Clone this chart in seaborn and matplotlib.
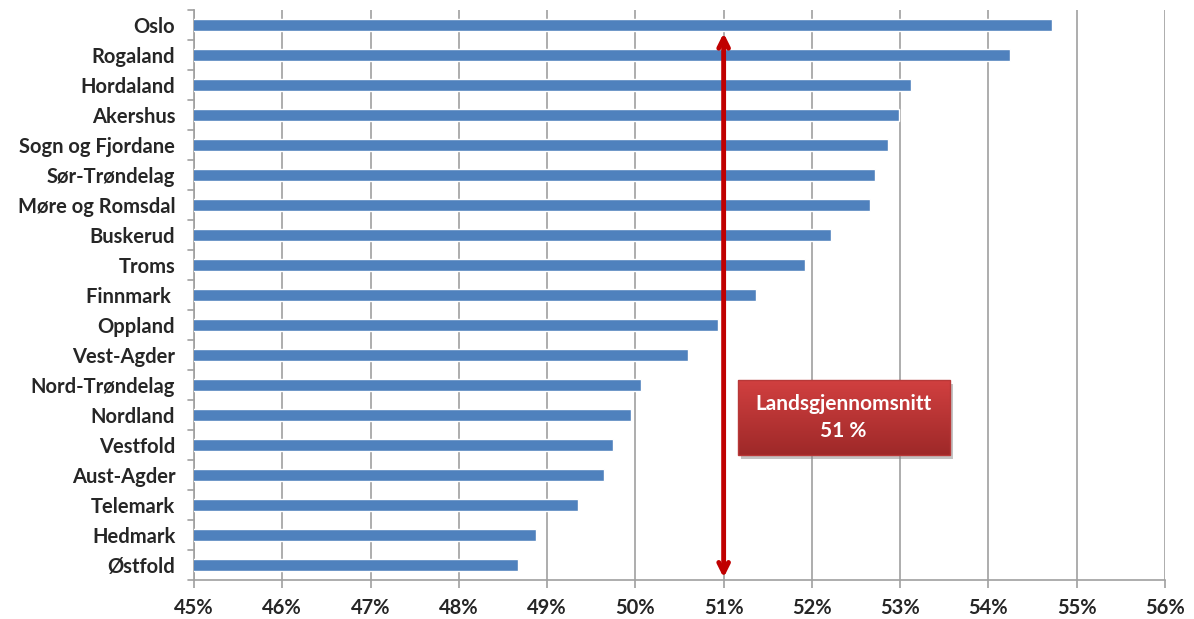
import numpy as np
import pandas as pd
import matplotlib.pyplot as plt
import matplotlib.transforms as mtransforms
import seaborn as sns
from matplotlib.ticker import FixedLocator, FuncFormatter

# Andel per fylke (prosent), lest av figuren
fylker = ['Oslo', 'Rogaland', 'Hordaland', 'Akershus', 'Sogn og Fjordane',
          'Sør-Trøndelag', 'Møre og Romsdal', 'Buskerud', 'Troms', 'Finnmark ',
          'Oppland', 'Vest-Agder', 'Nord-Trøndelag', 'Nordland', 'Vestfold',
          'Aust-Agder', 'Telemark', 'Hedmark', 'Østfold']
andel = [54.72, 54.24, 53.12, 52.99, 52.86, 52.72, 52.66, 52.22, 51.92, 51.37,
         50.94, 50.60, 50.06, 49.95, 49.75, 49.65, 49.35, 48.87, 48.67]
snitt = 51
snitt_tekst = 'Landsgjennomsnitt\n51 %'
x_ticks = list(range(45, 57))

df = pd.DataFrame({'Fylke': fylker, 'Andel': andel})

sns.set_style('white')
plt.rcParams['font.family'] = ['Lato', 'DejaVu Sans']
plt.rcParams['xtick.bottom'] = True

fig = plt.figure(figsize=(11.94, 6.19), dpi=100)
ax = fig.add_axes([194 / 1194, 1 - 580 / 619, (1165 - 194) / 1194, 570 / 619])

sns.barplot(data=df, x='Andel', y='Fylke', orient='h', color='#4F81BD',
            saturation=1, width=0.42, ax=ax, zorder=3)

ax.set_xlim(45, 56)
ax.set_ylim(len(fylker) - 0.5, -0.5)
ax.set_xlabel('')
ax.set_ylabel('')

# grid + axes in Excel style
ax.xaxis.set_major_locator(FixedLocator(x_ticks))
ax.xaxis.set_major_formatter(FuncFormatter(lambda v, p: f'{v:.0f}%'))
ax.grid(axis='x', color='#A0A0A0', lw=1.2, zorder=0)
ax.grid(axis='y', visible=False)
for s in ['top', 'right']:
    ax.spines[s].set_visible(False)
for s in ['left', 'bottom']:
    ax.spines[s].set_color('#A0A0A0')
    ax.spines[s].set_linewidth(1.2)
ax.tick_params(axis='x', which='major', bottom=True, direction='out', length=6,
               width=1.2, color='#A0A0A0', pad=7, labelsize=14.5)
ax.tick_params(axis='y', which='major', left=False, pad=10, labelsize=14.5)
for lbl in ax.get_xticklabels() + ax.get_yticklabels():
    lbl.set_fontweight('bold')

# tick marks between the categories on the y axis
trans = mtransforms.blended_transform_factory(ax.transAxes, ax.transData)
for b in np.arange(-0.5, len(fylker), 1):
    ax.plot([-0.0065, 0], [b, b], color='#A0A0A0', lw=1.2, transform=trans,
            clip_on=False, zorder=4)

# double arrow for national average
ax.annotate('', xy=(snitt, 0.27), xytext=(snitt, 18.42),
            arrowprops=dict(arrowstyle='<->,head_length=0.7,head_width=0.35',
                            color='#C00000', lw=3.5, shrinkA=0, shrinkB=0,
                            capstyle='round', joinstyle='round'),
            zorder=5)

# red gradient box with shadow
x0, x1, y0, y1 = 51.16, 53.56, 11.83, 14.33
ax.add_patch(plt.Rectangle((x0 + 0.04, y0 + 0.12), x1 - x0, y1 - y0,
                           color='#888888', alpha=0.5, zorder=5, lw=0))
grad = np.linspace(0, 1, 100).reshape(-1, 1)
top = np.array([0.82, 0.25, 0.25])
bot = np.array([0.62, 0.16, 0.16])
img = top + grad[..., None] * (bot - top)
ax.imshow(img, extent=(x0, x1, y1, y0), aspect='auto', zorder=6,
          interpolation='bilinear')
ax.add_patch(plt.Rectangle((x0, y0), x1 - x0, y1 - y0, fill=False,
                           ec='#B83838', lw=1, zorder=7))
ax.text((x0 + x1) / 2, (y0 + y1) / 2, snitt_tekst, color='white',
        fontsize=15, fontweight='bold', ha='center', va='center',
        linespacing=1.45, zorder=8)
ax.set_xlim(45, 56)
ax.set_ylim(len(fylker) - 0.5, -0.5)

fig.savefig('out.png', dpi=100)
